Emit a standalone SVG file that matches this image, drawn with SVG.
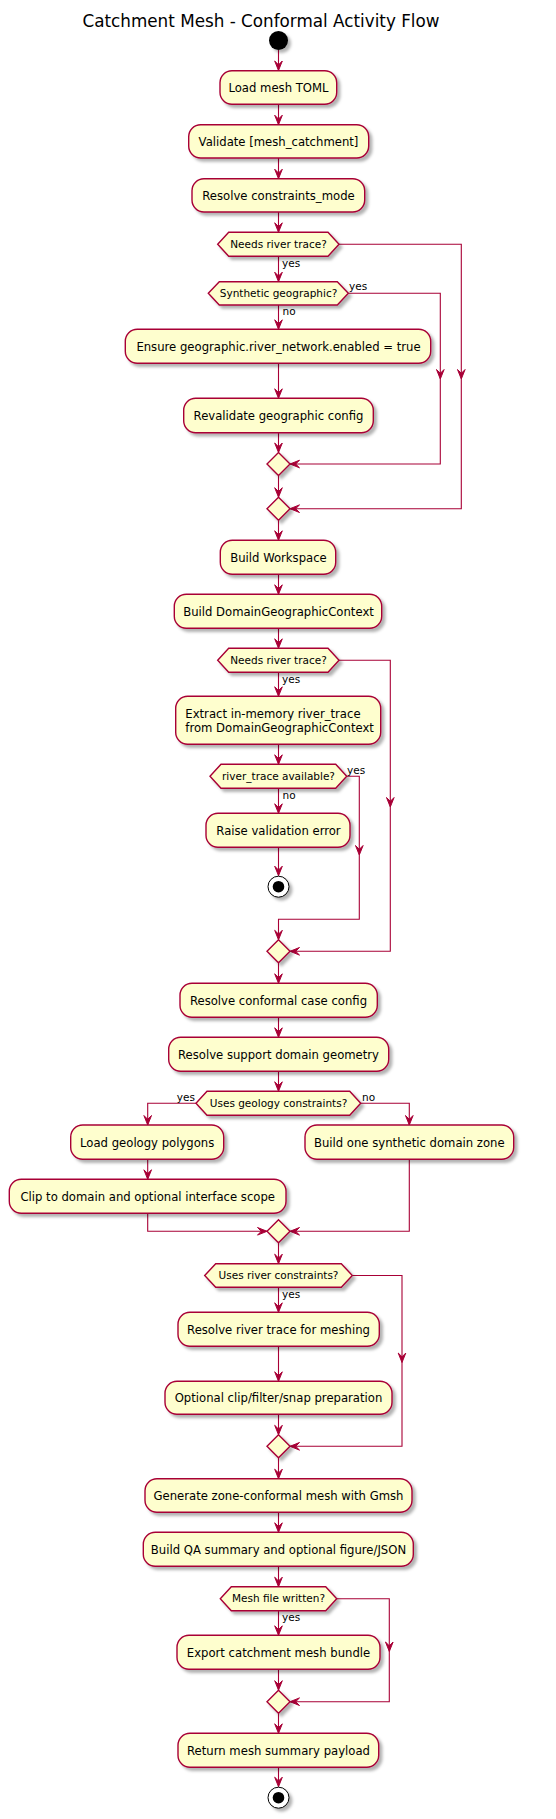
<svg xmlns="http://www.w3.org/2000/svg" width="556" height="1819" viewBox="0 0 556 1819">
<style>
.act{fill:#FEFECE;stroke:#A80036;stroke-width:1.4;filter:url(#sh)}
.dec{fill:#FEFECE;stroke:#A80036;stroke-width:1.4;filter:url(#sh)}
.t{font-family:"DejaVu Sans",Verdana,sans-serif;font-size:11.65px;fill:#000;text-anchor:middle}
.tl{font-family:"DejaVu Sans",Verdana,sans-serif;font-size:11.65px;fill:#000}
.h{font-family:"DejaVu Sans",Verdana,sans-serif;font-size:10.5px;fill:#000;text-anchor:middle}
.lb{font-family:"DejaVu Sans",Verdana,sans-serif;font-size:10.5px;fill:#000}
.ln{fill:none;stroke:#A80036;stroke-width:1.1}
.ah{fill:#A80036;stroke:#A80036;stroke-width:1}
.title{font-family:"DejaVu Sans",Verdana,sans-serif;font-size:16.8px;fill:#000;text-anchor:middle}
</style>
<defs>
<filter id="sh" x="-20%" y="-30%" width="150%" height="180%">
<feDropShadow dx="3" dy="3" stdDeviation="1.8" flood-color="#000" flood-opacity="0.3"/>
</filter>
<path id="ah" d="M0,0 L-3.8,-9.5 L0,-5.7 L3.8,-9.5 Z"/>
</defs>
<rect width="556" height="1819" fill="#fff"/>
<text class="title" x="261" y="27">Catchment Mesh - Conformal Activity Flow</text>

<g id="connectors">
<path class="ln" d="M278.5,50 V70.5 M278.5,104.3 V124.7 M278.5,158 V178.7 M278.5,212 V232.3 M278.5,256.3 V281.7"/>
<path class="ln" d="M339,244.3 H461.3 V508.7 H290"/>
<path class="ln" d="M348.3,293.3 H440.3 V464 H290"/>
<path class="ln" d="M278.5,305 V329.3 M278.5,363.3 V398.3 M278.5,432.7 V452.5 M278.5,475.5 V497.2 M278.5,520.2 V540.3 M278.5,574.3 V594.3 M278.5,628.3 V648.3 M278.5,672.3 V696.3 M278.5,744.3 V764.3 M278.5,788.3 V813.3 M278.5,847.3 V875.7"/>
<path class="ln" d="M339,660.3 H390.3 V951.3 H290"/>
<path class="ln" d="M346.7,776.3 H359.3 V919.3 H278.5 V939.8"/>
<path class="ln" d="M278.5,962.8 V983.3 M278.5,1017.3 V1037.3 M278.5,1071.3 V1091.3"/>
<path class="ln" d="M196,1103.3 H147.7 V1125 M147.7,1159.3 V1179.3 M147.7,1213.3 V1231.3 H267"/>
<path class="ln" d="M360.7,1103.3 H409.3 V1125 M409.3,1159.3 V1231.3 H290"/>
<path class="ln" d="M278.5,1242.8 V1263.7 M278.5,1287.3 V1312.3 M278.5,1346.3 V1381.3 M278.5,1414.3 V1434.8 M278.5,1457.8 V1478.7 M278.5,1512.3 V1532.3 M278.5,1566.3 V1586.7 M278.5,1610.7 V1635.3 M278.5,1669.3 V1690.2 M278.5,1713.2 V1733.3 M278.5,1767.3 V1786.7"/>
<path class="ln" d="M352.3,1275.5 H402 V1446.3 H290"/>
<path class="ln" d="M336.7,1598.7 H389.3 V1701.7 H290"/>
<g class="ah">
<use href="#ah" transform="translate(278.5,70.5)"/>
<use href="#ah" transform="translate(278.5,124.7)"/>
<use href="#ah" transform="translate(278.5,178.7)"/>
<use href="#ah" transform="translate(278.5,232.3)"/>
<use href="#ah" transform="translate(278.5,281.7)"/>
<use href="#ah" transform="translate(461.3,379)"/>
<use href="#ah" transform="translate(440.3,379)"/>
<use href="#ah" transform="translate(290,508.7) rotate(90)"/>
<use href="#ah" transform="translate(290,464) rotate(90)"/>
<use href="#ah" transform="translate(278.5,329.3)"/>
<use href="#ah" transform="translate(278.5,398.3)"/>
<use href="#ah" transform="translate(278.5,452.5)"/>
<use href="#ah" transform="translate(278.5,497.2)"/>
<use href="#ah" transform="translate(278.5,540.3)"/>
<use href="#ah" transform="translate(278.5,594.3)"/>
<use href="#ah" transform="translate(278.5,648.3)"/>
<use href="#ah" transform="translate(278.5,696.3)"/>
<use href="#ah" transform="translate(278.5,764.3)"/>
<use href="#ah" transform="translate(278.5,813.3)"/>
<use href="#ah" transform="translate(278.5,875.7)"/>
<use href="#ah" transform="translate(390.3,807)"/>
<use href="#ah" transform="translate(359.3,855)"/>
<use href="#ah" transform="translate(278.5,939.8)"/>
<use href="#ah" transform="translate(290,951.3) rotate(90)"/>
<use href="#ah" transform="translate(278.5,983.3)"/>
<use href="#ah" transform="translate(278.5,1037.3)"/>
<use href="#ah" transform="translate(278.5,1091.3)"/>
<use href="#ah" transform="translate(147.7,1125)"/>
<use href="#ah" transform="translate(409.3,1125)"/>
<use href="#ah" transform="translate(147.7,1179.3)"/>
<use href="#ah" transform="translate(267,1231.3) rotate(-90)"/>
<use href="#ah" transform="translate(290,1231.3) rotate(90)"/>
<use href="#ah" transform="translate(278.5,1263.7)"/>
<use href="#ah" transform="translate(278.5,1312.3)"/>
<use href="#ah" transform="translate(402,1362.5)"/>
<use href="#ah" transform="translate(278.5,1381.3)"/>
<use href="#ah" transform="translate(278.5,1434.8)"/>
<use href="#ah" transform="translate(290,1446.3) rotate(90)"/>
<use href="#ah" transform="translate(278.5,1478.7)"/>
<use href="#ah" transform="translate(278.5,1532.3)"/>
<use href="#ah" transform="translate(278.5,1586.7)"/>
<use href="#ah" transform="translate(278.5,1635.3)"/>
<use href="#ah" transform="translate(389.3,1651.5)"/>
<use href="#ah" transform="translate(278.5,1690.2)"/>
<use href="#ah" transform="translate(290,1701.7) rotate(90)"/>
<use href="#ah" transform="translate(278.5,1733.3)"/>
<use href="#ah" transform="translate(278.5,1786.7)"/>
</g>
<text class="lb" x="282" y="267">yes</text>
<text class="lb" x="349" y="290">yes</text>
<text class="lb" x="282.5" y="314.5">no</text>
<text class="lb" x="282" y="683">yes</text>
<text class="lb" x="347" y="773.5">yes</text>
<text class="lb" x="282.5" y="798.5">no</text>
<text class="lb" x="195" y="1101" text-anchor="end">yes</text>
<text class="lb" x="362" y="1101">no</text>
<text class="lb" x="282" y="1298">yes</text>
<text class="lb" x="282" y="1621">yes</text>
</g>

<g id="start"><circle cx="278.5" cy="40.5" r="9.5" fill="#000" filter="url(#sh)"/></g>

<g id="load_toml"><rect class="act" x="220" y="70.7" width="116.7" height="33.6" rx="12"/><text class="t" x="278.5" y="91.8">Load mesh TOML</text></g>
<g id="validate"><rect class="act" x="188.7" y="124.7" width="180" height="33.3" rx="12"/><text class="t" x="278.5" y="145.7">Validate [mesh_catchment]</text></g>
<g id="resolve_mode"><rect class="act" x="192" y="178.7" width="172.7" height="33.3" rx="12"/><text class="t" x="278.5" y="199.7">Resolve constraints_mode</text></g>
<g id="dec_needs1"><polygon class="dec" points="217.7,244.3 228.7,232.3 328,232.3 339,244.3 328,256.3 228.7,256.3"/><text class="h" x="278.5" y="248">Needs river trace?</text></g>
<g id="dec_synth"><polygon class="dec" points="208.3,293.3 219.3,281.7 337.3,281.7 348.3,293.3 337.3,305 219.3,305"/><text class="h" x="278.5" y="297">Synthetic geographic?</text></g>
<g id="ensure"><rect class="act" x="125.3" y="329.3" width="305.4" height="34" rx="12"/><text class="t" x="278.5" y="350.7">Ensure geographic.river_network.enabled = true</text></g>
<g id="revalidate"><rect class="act" x="183.7" y="398.3" width="189.6" height="34.4" rx="12"/><text class="t" x="278.5" y="419.9">Revalidate geographic config</text></g>
<g id="merge_a"><polygon class="dec" points="267,464 278.5,452.5 290,464 278.5,475.5"/></g>
<g id="merge_b"><polygon class="dec" points="267,508.7 278.5,497.2 290,508.7 278.5,520.2"/></g>
<g id="workspace"><rect class="act" x="220.3" y="540.3" width="115.4" height="34" rx="12"/><text class="t" x="278.5" y="561.7">Build Workspace</text></g>
<g id="dgc"><rect class="act" x="174.3" y="594.3" width="207.4" height="34" rx="12"/><text class="t" x="278.5" y="615.7">Build DomainGeographicContext</text></g>
<g id="dec_needs2"><polygon class="dec" points="217.7,660.3 228.7,648.3 328,648.3 339,660.3 328,672.3 228.7,672.3"/><text class="h" x="278.5" y="664">Needs river trace?</text></g>
<g id="extract"><rect class="act" x="175.7" y="696.3" width="205" height="48" rx="12"/><text class="tl" x="185.3" y="718.3">Extract in-memory river_trace</text><text class="tl" x="185.3" y="732">from DomainGeographicContext</text></g>
<g id="dec_avail"><polygon class="dec" points="210,776.3 221,764.3 335.7,764.3 346.7,776.3 335.7,788.3 221,788.3"/><text class="h" x="278.5" y="780">river_trace available?</text></g>
<g id="raise"><rect class="act" x="206" y="813.3" width="144" height="34" rx="12"/><text class="t" x="278.5" y="834.7">Raise validation error</text></g>
<g id="stop1"><circle cx="278.5" cy="886.7" r="10.5" fill="#fff" stroke="#000" stroke-width="1" filter="url(#sh)"/><circle cx="278.5" cy="886.7" r="5.8" fill="#000"/></g>
<g id="merge_c"><polygon class="dec" points="267,951.3 278.5,939.8 290,951.3 278.5,962.8"/></g>
<g id="conformal_cfg"><rect class="act" x="180" y="983.3" width="197.3" height="34" rx="12"/><text class="t" x="278.5" y="1004.7">Resolve conformal case config</text></g>
<g id="support_geom"><rect class="act" x="168.7" y="1037.3" width="220" height="34" rx="12"/><text class="t" x="278.5" y="1058.7">Resolve support domain geometry</text></g>
<g id="dec_geology"><polygon class="dec" points="196,1103.3 207,1091.3 349.7,1091.3 360.7,1103.3 349.7,1115.3 207,1115.3"/><text class="h" x="278.5" y="1107">Uses geology constraints?</text></g>
<g id="load_geology"><rect class="act" x="70.7" y="1125" width="153" height="34.3" rx="12"/><text class="t" x="147.2" y="1146.5">Load geology polygons</text></g>
<g id="synthetic_zone"><rect class="act" x="305" y="1125" width="208.7" height="34.3" rx="12"/><text class="t" x="409.3" y="1146.5">Build one synthetic domain zone</text></g>
<g id="clip_domain"><rect class="act" x="9.3" y="1179.3" width="276.7" height="34" rx="12"/><text class="t" x="147.7" y="1200.7">Clip to domain and optional interface scope</text></g>
<g id="merge_d"><polygon class="dec" points="267,1231.3 278.5,1219.8 290,1231.3 278.5,1242.8"/></g>
<g id="dec_river"><polygon class="dec" points="204.7,1275.5 215.7,1263.7 341.3,1263.7 352.3,1275.5 341.3,1287.3 215.7,1287.3"/><text class="h" x="278.5" y="1279.2">Uses river constraints?</text></g>
<g id="river_mesh"><rect class="act" x="178" y="1312.3" width="201.3" height="34" rx="12"/><text class="t" x="278.5" y="1333.7">Resolve river trace for meshing</text></g>
<g id="snap_prep"><rect class="act" x="165" y="1381.3" width="227" height="33" rx="12"/><text class="t" x="278.5" y="1402.2">Optional clip/filter/snap preparation</text></g>
<g id="merge_e"><polygon class="dec" points="267,1446.3 278.5,1434.8 290,1446.3 278.5,1457.8"/></g>
<g id="gmsh"><rect class="act" x="145" y="1478.7" width="267" height="33.6" rx="12"/><text class="t" x="278.5" y="1499.9">Generate zone-conformal mesh with Gmsh</text></g>
<g id="qa"><rect class="act" x="143.3" y="1532.3" width="270" height="34" rx="12"/><text class="t" x="278.5" y="1553.7">Build QA summary and optional figure/JSON</text></g>
<g id="dec_written"><polygon class="dec" points="220.3,1598.7 231.3,1586.7 325.7,1586.7 336.7,1598.7 325.7,1610.7 231.3,1610.7"/><text class="h" x="278.5" y="1602.4">Mesh file written?</text></g>
<g id="export"><rect class="act" x="177" y="1635.3" width="203" height="34" rx="12"/><text class="t" x="278.5" y="1656.7">Export catchment mesh bundle</text></g>
<g id="merge_f"><polygon class="dec" points="267,1701.7 278.5,1690.2 290,1701.7 278.5,1713.2"/></g>
<g id="return"><rect class="act" x="178" y="1733.3" width="200.7" height="34" rx="12"/><text class="t" x="278.5" y="1754.7">Return mesh summary payload</text></g>
<g id="stop2"><circle cx="278.5" cy="1797.7" r="10.5" fill="#fff" stroke="#000" stroke-width="1" filter="url(#sh)"/><circle cx="278.5" cy="1797.7" r="5.8" fill="#000"/></g>
</svg>
